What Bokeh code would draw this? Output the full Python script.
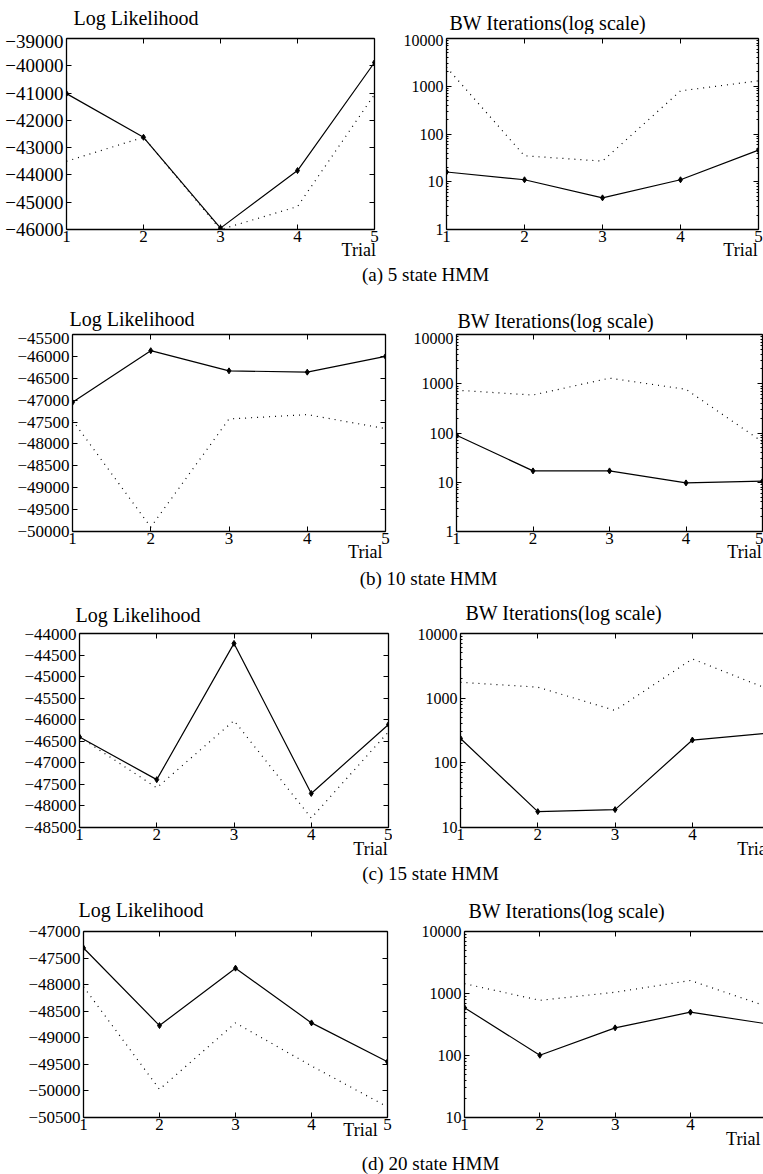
from bokeh.plotting import figure
from bokeh.models import (Range1d, LinearAxis, LogAxis, FixedTicker, Label)
from bokeh.layouts import column, row
from bokeh.embed import file_html
from bokeh.resources import INLINE

# ---------------- data ----------------
trials = [1, 2, 3, 4, 5]
x_labels = ["1", "2", "3", "4", "5"]

ll5_solid = [-41020, -42620, -45950, -43840, -39880]
ll5_dotted = [-43500, -42620, -46000, -45160, -41050]
bw5_solid = [16, 11, 4.6, 11, 46]
bw5_dotted = [2500, 35, 27, 800, 1300]

ll10_solid = [-47050, -45870, -46330, -46360, -46000]
ll10_dotted = [-47460, -49900, -47430, -47330, -47650]
bw10_solid = [90, 17, 17, 9.7, 10.5]
bw10_dotted = [740, 590, 1300, 770, 66]

ll15_solid = [-46400, -47390, -44230, -47710, -46110]
ll15_dotted = [-46400, -47580, -46020, -48280, -46280]
bw15_solid = [238, 17.6, 18.9, 225, 290]
bw15_dotted = [1760, 1480, 645, 4050, 1350]

ll20_solid = [-47310, -48770, -47690, -48720, -49450]
ll20_dotted = [-48040, -49970, -48720, -49530, -50300]
bw20_solid = [590, 101, 279, 500, 326]
bw20_dotted = [1440, 776, 1047, 1620, 627]

ll5_ticks = [-46000, -45000, -44000, -43000, -42000, -41000, -40000, -39000]
ll10_ticks = [-50000, -49500, -49000, -48500, -48000, -47500, -47000, -46500, -46000, -45500]
ll15_ticks = [-48500, -48000, -47500, -47000, -46500, -46000, -45500, -45000, -44500, -44000]
ll20_ticks = [-50500, -50000, -49500, -49000, -48500, -48000, -47500, -47000]
bw_ticks_a = [1, 10, 100, 1000, 10000]
bw_ticks_c = [10, 100, 1000, 10000]

title_ll = "Log Likelihood"
title_bw = "BW Iterations(log scale)"
trial_text = "Trial"
captions = ["(a) 5 state HMM", "(b) 10 state HMM", "(c) 15 state HMM", "(d) 20 state HMM"]

FONT = "Liberation Serif"
HAS_ALIGN = "axis_label_align" in LinearAxis.properties()
NBSP = "\u00a0"


def minor_log(ticks):
    out = []
    for t in ticks[:-1]:
        out += [t * k for k in range(2, 10)]
    return out


def style_axis(ax, label_size="17px", standoff=3, hidden=False):
    ax.axis_line_color = "black"
    ax.axis_line_width = 1.3
    ax.major_tick_line_color = "black"
    ax.major_tick_in = 5
    ax.major_tick_out = 0
    ax.minor_tick_line_color = "black"
    ax.minor_tick_in = 2
    ax.minor_tick_out = 0
    ax.major_label_text_font = FONT
    ax.major_label_text_font_size = label_size
    ax.major_label_text_color = None if hidden else "black"
    ax.major_label_standoff = standoff


def panel(w, h, bl, br, bt, bb, xr, yr, log, yticks, solid, dotted,
          trial_stand, trial_pad, right_axis=True, ylab_size="17px"):
    p = figure(width=w, height=h, x_range=Range1d(*xr), y_range=Range1d(*yr),
               y_axis_type="log" if log else "linear",
               x_axis_location=None, y_axis_location=None, title=None,
               min_border_left=bl, min_border_right=br,
               min_border_top=bt, min_border_bottom=bb,
               toolbar_location=None, output_backend="svg")
    p.outline_line_color = None
    p.grid.visible = False

    xt = FixedTicker(ticks=trials)
    if log:
        yt = FixedTicker(ticks=yticks, minor_ticks=minor_log(yticks))
        ylabels = {t: str(t) for t in yticks}
        AxisY = LogAxis
    else:
        yt = FixedTicker(ticks=yticks)
        ylabels = {t: "\u2212" + str(abs(t)) for t in yticks}
        AxisY = LinearAxis

    bottom = LinearAxis(ticker=xt, major_label_overrides={t: s for t, s in zip(trials, x_labels)},
                        axis_label=trial_text + NBSP * trial_pad)
    style_axis(bottom, "17px", 1)
    bottom.axis_label_text_font = FONT
    bottom.axis_label_text_font_size = "18px"
    bottom.axis_label_text_font_style = "normal"
    bottom.axis_label_text_color = "black"
    bottom.axis_label_standoff = trial_stand
    if HAS_ALIGN:
        bottom.axis_label_align = "end"
    p.add_layout(bottom, "below")

    left = AxisY(ticker=yt, major_label_overrides=ylabels)
    style_axis(left, ylab_size, 3)
    p.add_layout(left, "left")

    top = LinearAxis(ticker=xt)
    style_axis(top, "1px", 0, hidden=True)
    p.add_layout(top, "above")

    if right_axis:
        right = AxisY(ticker=yt)
        style_axis(right, "1px", 0, hidden=True)
        p.add_layout(right, "right")

    p.line(trials, dotted, line_color="black", line_width=1.2, line_dash="1 5")
    p.line(trials, solid, line_color="black", line_width=1.2)
    p.scatter(trials, solid, marker="diamond", size=6, color="black")
    return p


def strip(h, texts):
    """Full-width text strip; texts = (text, x, baseline_from_top, align, size)."""
    p = figure(width=763, height=h, x_range=Range1d(0, 763), y_range=Range1d(h, 0),
               x_axis_location=None, y_axis_location=None, min_border=0, title=None,
               toolbar_location=None, output_backend="svg")
    p.outline_line_color = None
    p.grid.visible = False
    for text, x, base, align, size in texts:
        p.add_layout(Label(x=x, y=base - 0.24 * size, text=text, text_font=FONT,
                           text_font_size=f"{size}px", text_color="black",
                           text_align=align, text_baseline="middle"))
    return p


a_l = panel(380, 228, 66, 6, 4, 30, (1, 5), (-46000, -39000), False, ll5_ticks,
            ll5_solid, ll5_dotted, -5, 7, ylab_size="19px")
a_r = panel(383, 228, 66, 5, 4, 30, (1, 5), (1, 10000), True, bw_ticks_a,
            bw5_solid, bw5_dotted, -5, 8, ylab_size="16px")
b_l = panel(390, 232, 72, 5, 2, 30, (1, 5), (-50000, -45500), False, ll10_ticks,
            ll10_solid, ll10_dotted, -5, 9)
b_r = panel(373, 232, 66, 1, 2, 30, (1, 5), (1, 10000), True, bw_ticks_a,
            bw10_solid, bw10_dotted, -5, 8, ylab_size="16px")
c_l = panel(392, 233, 79, 4, 5, 29, (1, 5), (-48500, -44000), False, ll15_ticks,
            ll15_solid, ll15_dotted, -4, 8)
c_r = panel(371, 233, 68, 0, 4, 30, (1, 4.92), (10, 10000), True, bw_ticks_c,
            bw15_solid, bw15_dotted, -4, 4, right_axis=False, ylab_size="16px")
d_l = panel(392, 228, 83, 5, 8, 30, (1, 5), (-50500, -47000), False, ll20_ticks,
            ll20_solid, ll20_dotted, -13, 12)
d_r = panel(371, 228, 72, 0, 4, 30, (1, 4.97), (10, 10000), True, bw_ticks_c,
            bw20_solid, bw20_dotted, -4, 9, right_axis=False, ylab_size="16px")

s0 = strip(34, [(title_ll, 73, 22, "left", 20), (title_bw, 449, 27, "left", 20)])
s1 = strip(70, [(captions[0], 425, 17, "center", 19),
                (title_ll, 69, 61, "left", 20), (title_bw, 457, 63, "left", 20)])
s2 = strip(64, [(captions[1], 428, 19, "center", 19),
                (title_ll, 75, 55, "left", 20), (title_bw, 465, 53, "left", 20)])
s3 = strip(62, [(captions[2], 430, 17, "center", 19),
                (title_ll, 78, 53, "left", 20), (title_bw, 468, 54, "left", 20)])
s4 = strip(23, [(captions[3], 430, 17, "center", 19)])

layout = column(s0, row(a_l, a_r), s1, row(b_l, b_r), s2,
                row(c_l, c_r), s3, row(d_l, d_r), s4)

open("out.html", "w").write(file_html(layout, INLINE))
